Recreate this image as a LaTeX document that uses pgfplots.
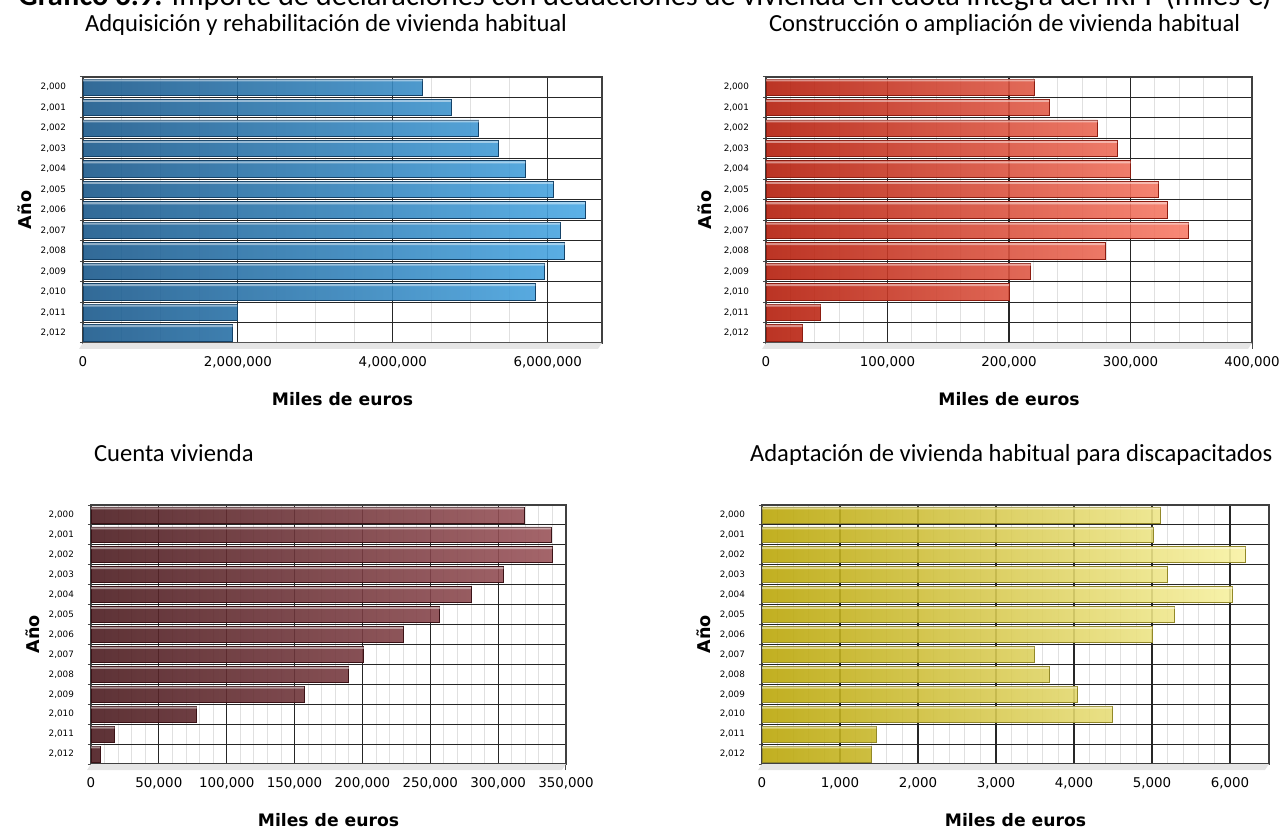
\documentclass[border=0pt]{standalone}
\usepackage{fontspec}
\setmainfont{DejaVu Sans}
\newfontfamily\titlefont{Carlito}
\usepackage{pgfplots}
\pgfplotsset{compat=1.18}

\definecolor{azulL}{RGB}{28,90,140}
\definecolor{azulR}{RGB}{74,168,228}
\definecolor{azulD}{RGB}{20,66,104}
\definecolor{rojoL}{RGB}{180,30,12}
\definecolor{rojoR}{RGB}{248,124,104}
\definecolor{rojoD}{RGB}{140,28,16}
\definecolor{granL}{RGB}{76,28,32}
\definecolor{granR}{RGB}{154,84,90}
\definecolor{granD}{RGB}{58,18,22}
\definecolor{amaL}{RGB}{186,166,8}
\definecolor{amaR}{RGB}{248,242,164}
\definecolor{amaD}{RGB}{146,136,40}

\pgfplotsset{
  panel/.style={
    scale only axis,
    set layers,
    clip=false,
    xbar, bar width=0.8,
    y dir=reverse,
    ymin=-0.5, ymax=12.5,
    ytick={0,...,12},
    yticklabels={{2,000},{2,001},{2,002},{2,003},{2,004},{2,005},{2,006},{2,007},{2,008},{2,009},{2,010},{2,011},{2,012}},
    minor ytick={-0.5,0.5,...,12.5},
    major y tick style={draw=none},
    xtick pos=bottom, ytick pos=left,
    yminorgrids,
    minor y grid style={black!85, line width=0.55pt},
    xmajorgrids,
    major x grid style={black!85, line width=0.55pt},
    xminorgrids,
    minor x grid style={black!12, line width=0.4pt},
    xmin=0,
    scaled x ticks=false,
    tick align=outside,
    major tick length=3pt,
    minor tick length=1.6pt,
    tick style={black!70, line width=0.5pt},
    axis line style={black!75, line width=0.6pt},
    xticklabel style={font=\fontsize{6.7}{8}\selectfont, /pgf/number format/.cd, fixed, 1000 sep={,}, assume math mode=true},
    yticklabel style={font=\fontsize{4.4}{5}\selectfont, xshift=-2pt},
    xlabel={\bfseries Miles de euros},
    xlabel style={font=\fontsize{8.6}{10}\selectfont, at={(axis description cs:0.5,0)}, anchor=center, yshift=-28pt},
    ylabel={\bfseries Año},
    ylabel style={font=\fontsize{8.8}{10}\selectfont, at={(axis description cs:0,0.5)}, anchor=center},
    title style={font=\titlefont\fontsize{12.3}{14}\selectfont, at={(axis description cs:0,1)}, anchor=base west},
  },
  hilite/.style={xbar, bar width=0.1, bar shift=-0.33, fill=white, fill opacity=0.45, draw=none, forget plot},
}

\begin{document}
\begin{tikzpicture}

% titular general, cortado por el borde superior
\node[anchor=base west, inner sep=0pt, font=\titlefont\fontsize{15.2}{17}\selectfont] at (9pt,412pt)
  {\textbf{Gráfico 6.9.} Importe de declaraciones con deducciones de vivienda en cuota íntegra del IRPF (miles €)};

% 1: Adquisición y rehabilitación
\begin{axis}[panel, at={(41.5pt,243.5pt)}, anchor=south west, width=259.5pt, height=133pt,
  xmax=6700000, xtick={0,2000000,4000000,6000000}, minor x tick num=3,
  ylabel style={yshift=29pt},
  title={Adquisición y rehabilitación de vivienda habitual}, title style={yshift=16.5pt, xshift=-2.5pt}]
  \fill[on layer=axis background, black!10] (axis description cs:0,0) -- (axis description cs:1,0)
    -- ([xshift=-2pt,yshift=-3pt]axis description cs:1,0) -- ([xshift=-2pt,yshift=-3pt]axis description cs:0,0) -- cycle;
  \addplot[bar shift=0, draw=azulD, line width=0.4pt, left color=azulL, right color=azulR, fill opacity=0.9] coordinates {
    (4380000,0) (4750000,1) (5110000,2) (5360000,3) (5710000,4) (6070000,5) (6480000,6)
    (6160000,7) (6220000,8) (5960000,9) (5840000,10) (1990000,11) (1930000,12)};
  \addplot[hilite] coordinates {
    (4380000,0) (4750000,1) (5110000,2) (5360000,3) (5710000,4) (6070000,5) (6480000,6)
    (6160000,7) (6220000,8) (5960000,9) (5840000,10) (1990000,11) (1930000,12)};
\end{axis}

% 2: Construcción o ampliación
\begin{axis}[panel, at={(383pt,243.5pt)}, anchor=south west, width=243pt, height=133pt,
  xmax=400000, xtick={0,100000,...,400000}, minor x tick num=4,
  ylabel style={yshift=30.5pt},
  title={Construcción o ampliación de vivienda habitual}, title style={yshift=16.5pt, xshift=-2pt}]
  \fill[on layer=axis background, black!10] (axis description cs:0,0) -- (axis description cs:1,0)
    -- ([xshift=-2pt,yshift=-3pt]axis description cs:1,0) -- ([xshift=-2pt,yshift=-3pt]axis description cs:0,0) -- cycle;
  \addplot[bar shift=0, draw=rojoD, line width=0.4pt, left color=rojoL, right color=rojoR, fill opacity=0.9] coordinates {
    (221000,0) (233000,1) (273000,2) (289000,3) (300000,4) (323000,5) (330000,6)
    (348000,7) (279000,8) (218000,9) (200000,10) (45000,11) (30000,12)};
  \addplot[hilite] coordinates {
    (221000,0) (233000,1) (273000,2) (289000,3) (300000,4) (323000,5) (330000,6)
    (348000,7) (279000,8) (218000,9) (200000,10) (45000,11) (30000,12)};
\end{axis}

% 3: Cuenta vivienda
\begin{axis}[panel, at={(45.5pt,33pt)}, anchor=south west, width=237.5pt, height=129.5pt,
  xmax=350000, xtick={0,50000,...,350000}, minor x tick num=4,
  ylabel style={yshift=29pt},
  title={Cuenta vivienda}, title style={yshift=16pt, xshift=-2pt}]
  \fill[on layer=axis background, black!10] (axis description cs:0,0) -- (axis description cs:1,0)
    -- ([xshift=-2pt,yshift=-3pt]axis description cs:1,0) -- ([xshift=-2pt,yshift=-3pt]axis description cs:0,0) -- cycle;
  \addplot[bar shift=0, draw=granD, line width=0.4pt, left color=granL, right color=granR, fill opacity=0.9] coordinates {
    (319000,0) (339000,1) (340000,2) (304000,3) (280000,4) (257000,5) (230000,6)
    (201000,7) (190000,8) (157000,9) (78000,10) (17400,11) (6600,12)};
  \addplot[hilite] coordinates {
    (319000,0) (339000,1) (340000,2) (304000,3) (280000,4) (257000,5) (230000,6)
    (201000,7) (190000,8) (157000,9) (78000,10) (17400,11) (6600,12)};
\end{axis}

% 4: Adaptación para discapacitados
\begin{axis}[panel, at={(381pt,33pt)}, anchor=south west, width=253.5pt, height=129.5pt,
  xmax=6500, xtick={0,1000,...,6000}, minor x tick num=4,
  ylabel style={yshift=29pt},
  title={Adaptación de vivienda habitual para discapacitados}, title style={yshift=16pt, xshift=-9.5pt}]
  \fill[on layer=axis background, black!10] (axis description cs:0,0) -- (axis description cs:1,0)
    -- ([xshift=-2pt,yshift=-3pt]axis description cs:1,0) -- ([xshift=-2pt,yshift=-3pt]axis description cs:0,0) -- cycle;
  \addplot[bar shift=0, draw=amaD, line width=0.4pt, left color=amaL, right color=amaR, fill opacity=0.9] coordinates {
    (5106,0) (5018,1) (6199,2) (5195,3) (6035,4) (5292,5) (5004,6)
    (3491,7) (3681,8) (4040,9) (4487,10) (1465,11) (1398,12)};
  \addplot[hilite] coordinates {
    (5106,0) (5018,1) (6199,2) (5195,3) (6035,4) (5292,5) (5004,6)
    (3491,7) (3681,8) (4040,9) (4487,10) (1465,11) (1398,12)};
\end{axis}

\pgfresetboundingbox
\path[use as bounding box] (0,0) rectangle (639.5pt,415pt);
\end{tikzpicture}
\end{document}
